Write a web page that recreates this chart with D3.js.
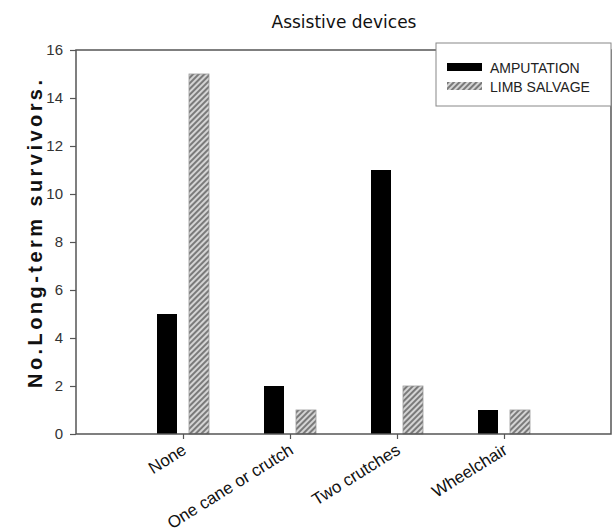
<!DOCTYPE html>
<html>
<head>
<meta charset="utf-8">
<script src="https://cdn.jsdelivr.net/npm/d3@7/dist/d3.min.js"></script>
<style>
  body { margin: 0; background: #fff; }
  svg { display: block; }
</style>
</head>
<body>
<div class="canvas"></div>
<script>
const categories = ["None", "One cane or crutch", "Two crutches", "Wheelchair"]
const amputation = [5, 2, 11, 1]
const limbSalvage = [15, 1, 2, 1]
const yTicks = [0, 2, 4, 6, 8, 10, 12, 14, 16]
const seriesNames = ["AMPUTATION", "LIMB SALVAGE"]

const W = 613, H = 532
const svg = d3.select(".canvas").append("svg").attr("width", W).attr("height", H)

// hatch for limb salvage
const defs = svg.append("defs")
const pat = defs.append("pattern")
  .attr("id", "hatch")
  .attr("patternUnits", "userSpaceOnUse")
  .attr("width", 4).attr("height", 4)
  .attr("patternTransform", "rotate(45)")
pat.append("rect").attr("width", 4).attr("height", 4).attr("fill", "#d4d4d4")
pat.append("rect").attr("width", 2).attr("height", 4).attr("fill", "#7a7a7a")

const x = d3.scaleLinear().domain([0, 5]).range([76, 611])
const y = d3.scaleLinear().domain([0, 16]).range([434, 50])

// title
svg.append("text")
  .attr("x", 344).attr("y", 28)
  .attr("text-anchor", "middle")
  .style("font-family", "DejaVu Sans")
  .style("font-size", "17px")
  .attr("fill", "#111")
  .text("Assistive devices")

// y axis label
svg.append("text")
  .attr("transform", "translate(42,234) rotate(-90)")
  .attr("text-anchor", "middle")
  .style("font-family", "Liberation Sans, Arial")
  .style("font-size", "20px")
  .style("font-weight", "bold")
  .attr("fill", "#111")
  .attr("textLength", 308)
  .attr("lengthAdjust", "spacing")
  .text("No.Long-term survivors.")

// bars
const barW = 20, gap = 6
const g = svg.append("g")
g.selectAll("rect.amp")
  .data(amputation)
  .enter()
  .append("rect")
  .attr("class", "amp")
  .attr("x", (d, i) => x(i + 1) - gap - barW)
  .attr("y", d => y(d))
  .attr("width", barW)
  .attr("height", d => y(0) - y(d))
  .attr("fill", "#000")
g.selectAll("rect.salv")
  .data(limbSalvage)
  .enter()
  .append("rect")
  .attr("class", "salv")
  .attr("x", (d, i) => x(i + 1) + gap)
  .attr("y", d => y(d))
  .attr("width", barW)
  .attr("height", d => y(0) - y(d))
  .attr("fill", "url(#hatch)")
  .attr("stroke", "#999")
  .attr("stroke-width", 0.8)

// frame
svg.append("rect")
  .attr("x", x(0)).attr("y", y(16))
  .attr("width", x(5) - x(0)).attr("height", y(0) - y(16))
  .attr("fill", "none")
  .attr("stroke", "#555")
  .attr("stroke-width", 1.5)

// y axis
const yAxis = svg.append("g")
  .attr("transform", `translate(${x(0)},0)`)
  .call(d3.axisLeft(y).tickValues(yTicks).tickSize(6).tickPadding(7))
yAxis.select(".domain").remove()
yAxis.selectAll("line").attr("stroke", "#555").attr("stroke-width", 1.2)
yAxis.selectAll("text")
  .style("font-family", "Liberation Sans, Arial")
  .style("font-size", "15px")
  .attr("fill", "#333")

// x axis
const xAxis = svg.append("g")
  .attr("transform", `translate(0,${y(0)})`)
  .call(d3.axisBottom(x).tickValues([1, 2, 3, 4]).tickSize(5).tickFormat(d => categories[d - 1]))
xAxis.select(".domain").remove()
xAxis.selectAll("line").attr("stroke", "#555").attr("stroke-width", 1.2)
xAxis.selectAll("text")
  .attr("y", 0).attr("dy", 0)
  .attr("transform", "translate(4,19) rotate(-32)")
  .attr("text-anchor", "end")
  .style("font-family", "Liberation Sans, Arial")
  .style("font-size", "17px")
  .attr("fill", "#111")

// legend
const lg = svg.append("g")
lg.append("rect")
  .attr("x", 436).attr("y", 43)
  .attr("width", 175).attr("height", 63)
  .attr("fill", "#fff")
  .attr("stroke", "#888")
  .attr("stroke-width", 1)
const fills = ["#000", "url(#hatch)"]
const items = lg.selectAll("g.item")
  .data(seriesNames)
  .enter()
  .append("g")
  .attr("transform", (d, i) => `translate(447,${63 + i * 19})`)
items.append("rect")
  .attr("width", 35).attr("height", 8)
  .attr("fill", (d, i) => fills[i])
items.append("text")
  .attr("x", 43).attr("y", 10)
  .style("font-family", "Liberation Sans, Arial")
  .style("font-size", "14px")
  .attr("fill", "#222")
  .text(d => d)
</script>
</body>
</html>
